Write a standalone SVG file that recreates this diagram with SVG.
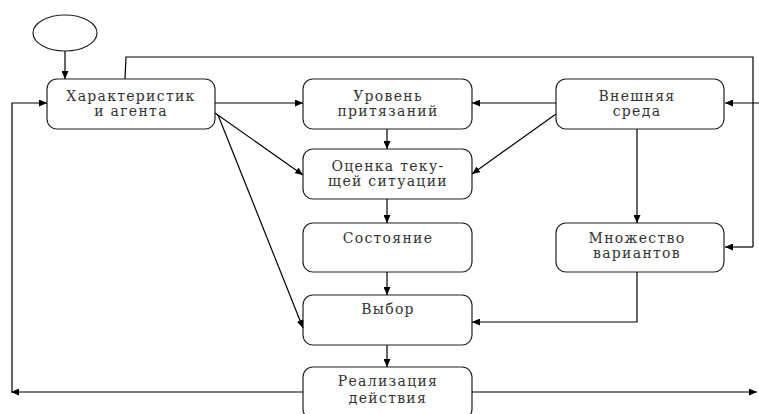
<svg xmlns="http://www.w3.org/2000/svg" width="759" height="414" viewBox="0 0 759 414">
<defs>
<marker id="ah" markerWidth="8" markerHeight="7" refX="8" refY="3.5" orient="auto" markerUnits="userSpaceOnUse">
<path d="M0,0 L8,3.5 L0,7 Z" fill="#000"/>
</marker>
</defs>
<style>
.box{fill:#fff;stroke:#222;stroke-width:1.2}
.t{font-family:"DejaVu Serif","Liberation Serif",serif;font-size:14px;letter-spacing:1.3px;fill:#333;text-anchor:middle}
.c{fill:none;stroke:#000;stroke-width:1.2}
.a{fill:none;stroke:#000;stroke-width:1.2;marker-end:url(#ah)}
</style>
<rect width="759" height="414" fill="#fff"/>
<g id="start"><ellipse class="box" cx="65" cy="33" rx="32" ry="18"/></g>
<g id="agent"><rect class="box" x="47" y="79" width="168" height="50" rx="10"/>
<text class="t" x="131" y="101">Характеристик</text><text class="t" x="131" y="116">и агента</text></g>
<g id="level"><rect class="box" x="303" y="79" width="169" height="50" rx="10"/>
<text class="t" x="388" y="101">Уровень</text><text class="t" x="388" y="116">притязаний</text></g>
<g id="env"><rect class="box" x="556" y="79" width="168" height="50" rx="10"/>
<text class="t" x="637" y="101">Внешняя</text><text class="t" x="637" y="116">среда</text></g>
<g id="eval"><rect class="box" x="303" y="149" width="169" height="50" rx="10"/>
<text class="t" x="388" y="171">Оценка теку-</text><text class="t" x="388" y="186">щей ситуации</text></g>
<g id="state"><rect class="box" x="303" y="223" width="169" height="49" rx="10"/>
<text class="t" x="388" y="243">Состояние</text></g>
<g id="variants"><rect class="box" x="556" y="223" width="168" height="49" rx="10"/>
<text class="t" x="637" y="243">Множество</text><text class="t" x="637" y="258">вариантов</text></g>
<g id="choice"><rect class="box" x="303" y="295" width="169" height="50" rx="10"/>
<text class="t" x="388" y="314">Выбор</text></g>
<g id="action"><rect class="box" x="303" y="367" width="169" height="52" rx="10"/>
<text class="t" x="388" y="386">Реализация</text><text class="t" x="388" y="403">действия</text></g>
<g id="connectors">
<path class="a" d="M65,51 V79"/>
<path class="c" d="M125,79 L126,57 H753 V247"/>
<path class="a" d="M753,247 H725"/>
<path class="a" d="M759,103 H725"/>
<path class="a" d="M215,103 H303"/>
<path class="a" d="M556,103 H472"/>
<path class="a" d="M215,113 L303,175"/>
<path class="a" d="M556,114 L472,174"/>
<path class="a" d="M218,115 L303,328"/>
<path class="a" d="M387,129 V149"/>
<path class="a" d="M387,199 V223"/>
<path class="a" d="M387,272 V295"/>
<path class="a" d="M387,345 V367"/>
<path class="a" d="M637,129 V223"/>
<path class="a" d="M637,272 V322 H472"/>
<path class="a" d="M303,392 H11"/>
<path class="a" d="M12,392 V103 H47"/>
<path class="a" d="M472,392 H757"/>
</g>
</svg>
